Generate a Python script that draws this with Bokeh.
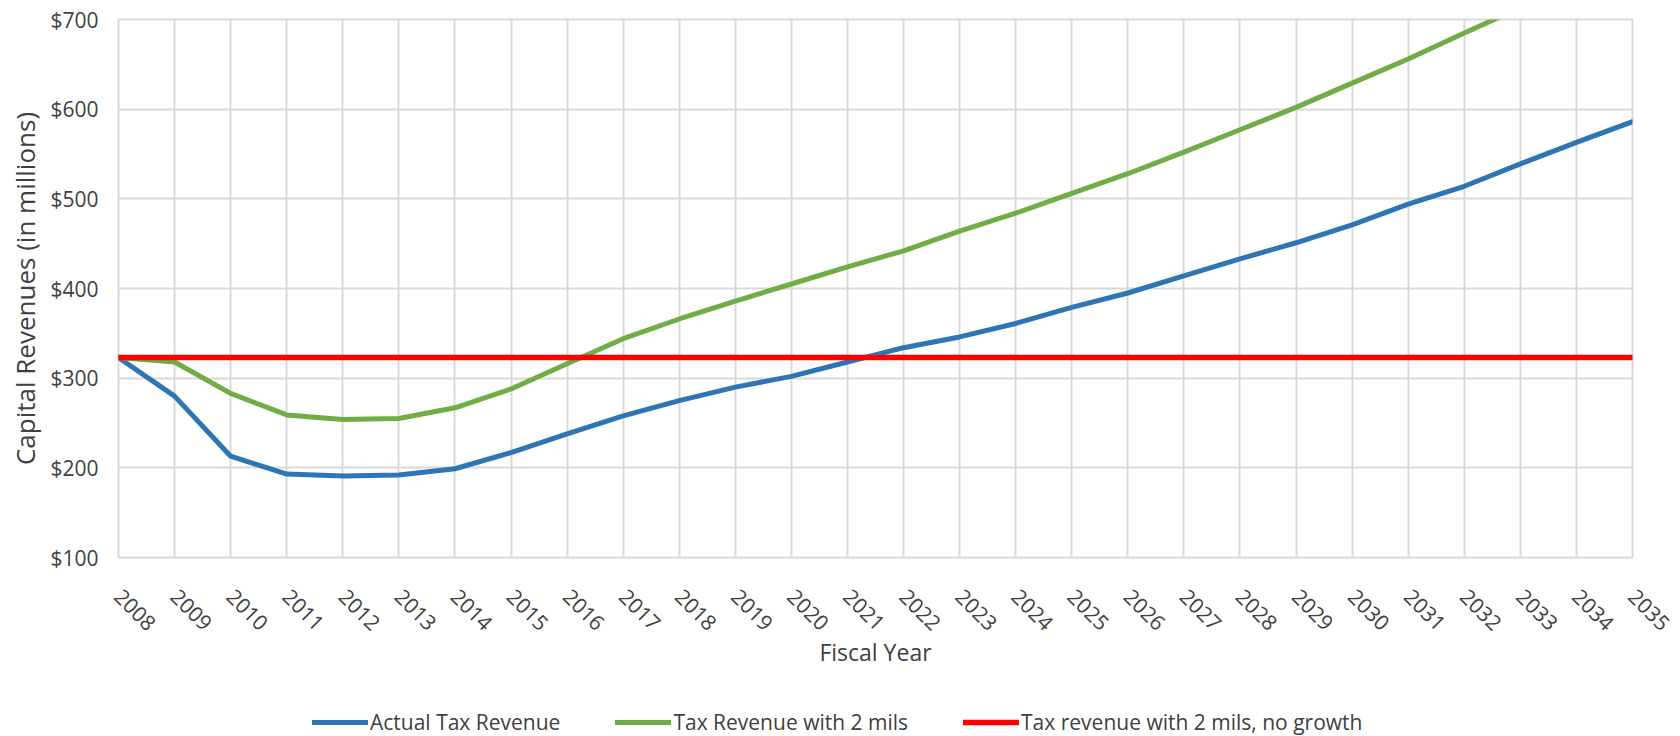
import math
from bokeh.plotting import figure
from bokeh.layouts import column
from bokeh.models import Range1d, FixedTicker, NumeralTickFormatter, Legend, LegendItem
from bokeh.embed import file_html
from bokeh.resources import INLINE

# ---- data ----
years = [2008, 2009, 2010, 2011, 2012, 2013, 2014, 2015, 2016, 2017,
         2018, 2019, 2020, 2021, 2022, 2023, 2024, 2025, 2026, 2027,
         2028, 2029, 2030, 2031, 2032, 2033, 2034, 2035]
actual_tax_revenue = [323, 280, 213, 193, 191, 192, 199, 217, 238, 258,
                      275, 290, 302, 318, 334, 346, 361, 379, 395, 414,
                      433, 451, 471, 494, 514, 539, 563, 586]
revenue_with_2_mils = [323, 318, 283, 259, 254, 255, 267, 288, 316, 344,
                       366, 386, 405, 424, 442, 464, 484, 506, 528, 552,
                       577, 602, 629, 656, 685, 713, 744, 776]
revenue_no_growth = [323, 323, 323, 323, 323, 323, 323, 323, 323, 323,
                     323, 323, 323, 323, 323, 323, 323, 323, 323, 323,
                     323, 323, 323, 323, 323, 323, 323, 323]
y_ticks = [100, 200, 300, 400, 500, 600, 700]
series_labels = ["Actual Tax Revenue", "Tax Revenue with 2 mils",
                 "Tax revenue with 2 mils, no growth"]
series_colors = ["#2E75B6", "#70AD47", "#FF0000"]

FONT = "Open Sans"
TEXT = "#404040"
GRID = "#d9d9d9"

W = 1680
H_MAIN = 690
H_LEG = 46

p = figure(width=W, height=H_MAIN, output_backend="svg", toolbar_location=None,
           x_range=Range1d(2008, 2035), y_range=Range1d(100, 700),
           min_border_left=118, min_border_right=48,
           min_border_top=19, min_border_bottom=H_MAIN - 557)
p.background_fill_color = "white"
p.border_fill_color = "white"
p.outline_line_color = GRID
p.outline_line_width = 2

# grids
p.xgrid.ticker = FixedTicker(ticks=years)
p.ygrid.ticker = FixedTicker(ticks=y_ticks)
for g in (p.xgrid, p.ygrid):
    g.grid_line_color = GRID
    g.grid_line_width = 2

# x axis
xa = p.xaxis[0]
xa.ticker = FixedTicker(ticks=years)
xa.major_label_orientation = -math.pi / 4
xa.major_tick_line_color = None
xa.major_tick_out = 0
xa.major_tick_in = 0
xa.minor_tick_line_color = None
xa.axis_line_color = None
xa.major_label_standoff = 35
xa.major_label_text_font = FONT
xa.major_label_text_font_size = "21px"
xa.major_label_text_color = TEXT
xa.axis_label = "Fiscal Year"
xa.axis_label_text_font = FONT
xa.axis_label_text_font_size = "23px"
xa.axis_label_text_font_style = "normal"
xa.axis_label_text_color = TEXT
xa.axis_label_standoff = -5

# y axis
ya = p.yaxis[0]
ya.ticker = FixedTicker(ticks=y_ticks)
ya.formatter = NumeralTickFormatter(format="$0")
ya.major_tick_line_color = None
ya.major_tick_out = 0
ya.major_tick_in = 0
ya.minor_tick_line_color = None
ya.axis_line_color = None
ya.major_label_standoff = 20
ya.major_label_text_font = FONT
ya.major_label_text_font_size = "21px"
ya.major_label_text_color = TEXT
ya.axis_label = "Capital Revenues (in millions)"
ya.axis_label_text_font = FONT
ya.axis_label_text_font_size = "26px"
ya.axis_label_text_font_style = "normal"
ya.axis_label_text_color = TEXT
ya.axis_label_standoff = 4

# lines (blue, green, then red on top)
series = [actual_tax_revenue, revenue_with_2_mils, revenue_no_growth]
widths = [5, 5, 5.5]
for vals, col, lw in zip(series, series_colors, widths):
    p.line(years, vals, line_color=col, line_width=lw,
           line_join="round", line_cap="round")

# ---- legend strip below the chart ----
# (the strip's ranges exclude the data, so only the legend is visible)
pl = figure(width=W, height=H_LEG, output_backend="svg", toolbar_location=None,
            x_range=Range1d(0, 1), y_range=Range1d(0, 1),
            x_axis_location=None, y_axis_location=None,
            min_border_left=0, min_border_right=0,
            min_border_top=0, min_border_bottom=0)
pl.outline_line_color = None
pl.grid.visible = False
pl.background_fill_color = "white"
pl.border_fill_color = "white"

items = []
for lab, vals, col, lw in zip(series_labels, series, series_colors, widths):
    r = pl.line(years, vals, line_color=col, line_width=lw, line_cap="round")
    items.append(LegendItem(label=lab, renderers=[r]))

legend = Legend(items=items, orientation="horizontal", location=(194, 0))
legend.padding = 0
legend.margin = 0
legend.spacing = 55
legend.glyph_width = 56
legend.glyph_height = 20
legend.label_standoff = 2
legend.label_text_font = FONT
legend.label_text_font_size = "21px"
legend.label_text_color = TEXT
legend.border_line_color = None
legend.background_fill_alpha = 0
pl.add_layout(legend)

layout = column(p, pl, spacing=0)
open("out.html", "w").write(file_html(layout, INLINE))
